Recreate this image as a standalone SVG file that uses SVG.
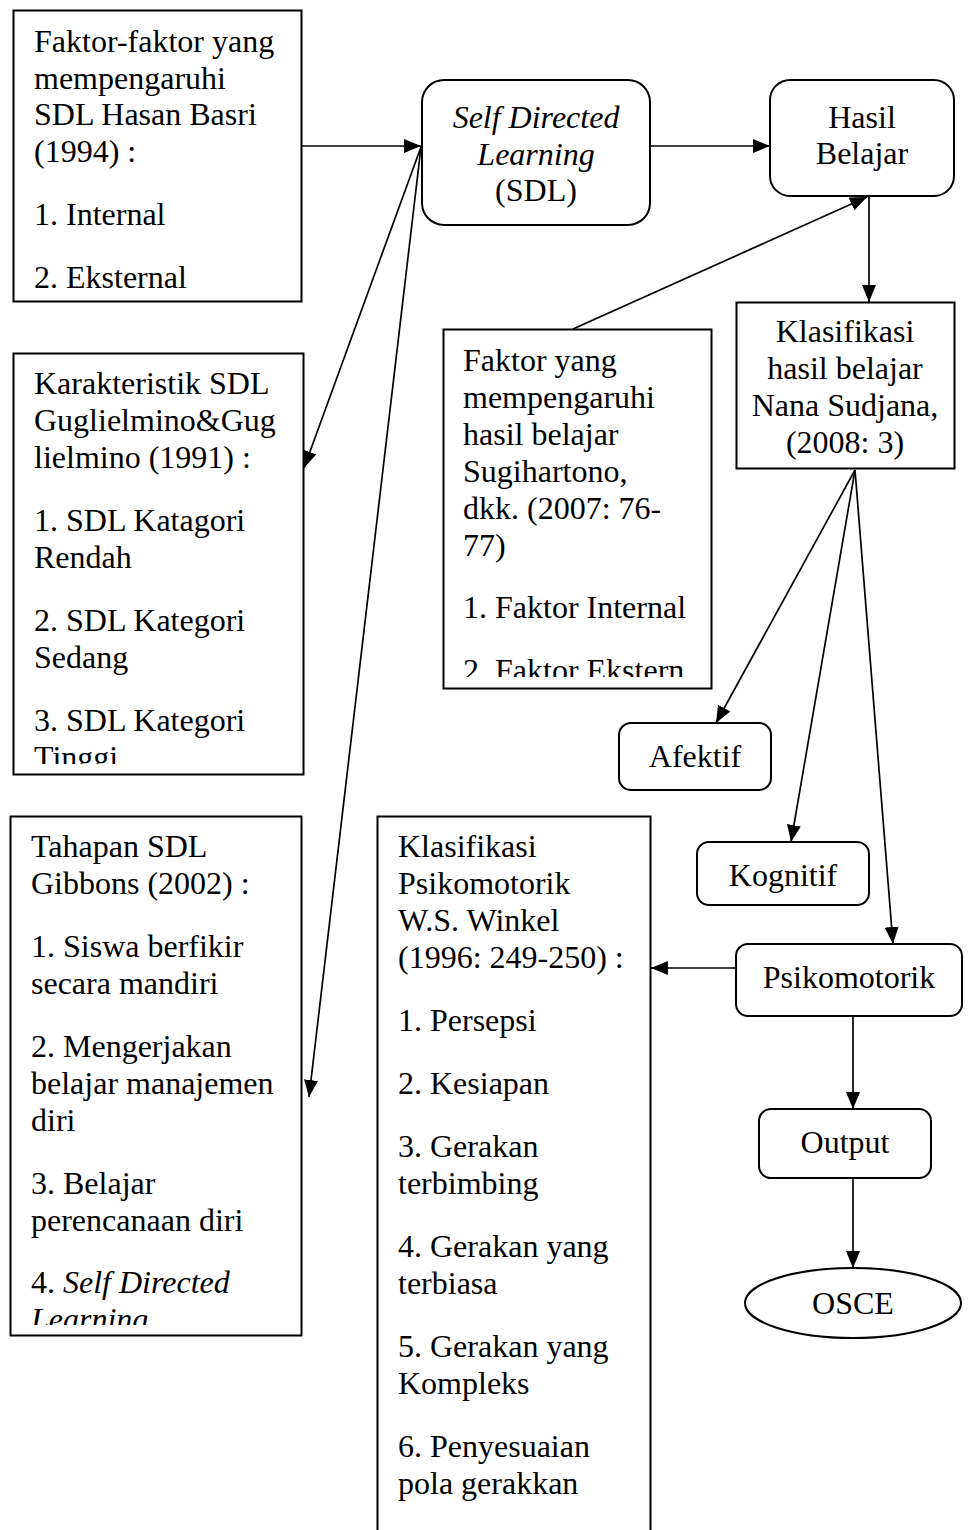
<svg xmlns="http://www.w3.org/2000/svg" width="972" height="1530" viewBox="0 0 972 1530">
<style>
  .box { fill: #fff; stroke: #000; stroke-width: 2; }
  .t { font-family: "Liberation Serif", "Times New Roman", serif; font-size: 32px; fill: #000; }
  .c { text-anchor: middle; }
  .i { font-style: italic; }
  .ln { stroke: #000; stroke-width: 1.7; fill: none; marker-end: url(#ah); }
</style>
<defs>
  <marker id="ah" viewBox="0 0 17 14" refX="17" refY="7" markerWidth="17" markerHeight="14" markerUnits="userSpaceOnUse" orient="auto">
    <path d="M0,0 L17,7 L0,14 z" fill="#000"/>
  </marker>
  <clipPath id="c2"><rect x="13" y="353" width="291" height="411"/></clipPath>
  <clipPath id="c3"><rect x="10" y="816" width="292" height="509"/></clipPath>
  <clipPath id="c5"><rect x="443" y="329" width="269" height="348"/></clipPath>
</defs>

<g id="n-faktor-sdl">
  <rect class="box" x="13.5" y="10.5" width="288" height="291"/>
  <text class="t" x="34" y="52">Faktor-faktor yang</text>
  <text class="t" x="34" y="89">mempengaruhi</text>
  <text class="t" x="34" y="125">SDL Hasan Basri</text>
  <text class="t" x="34" y="162">(1994) :</text>
  <text class="t" x="34" y="225">1. Internal</text>
  <text class="t" x="34" y="288">2. Eksternal</text>
</g>

<g id="n-karakteristik">
  <rect class="box" x="13.5" y="353.5" width="290" height="421"/>
  <g clip-path="url(#c2)">
    <text class="t" x="34" y="394">Karakteristik SDL</text>
    <text class="t" x="34" y="431">Guglielmino&amp;Gug</text>
    <text class="t" x="34" y="468">lielmino (1991) :</text>
    <text class="t" x="34" y="531">1. SDL Katagori</text>
    <text class="t" x="34" y="568">Rendah</text>
    <text class="t" x="34" y="631">2. SDL Kategori</text>
    <text class="t" x="34" y="668">Sedang</text>
    <text class="t" x="34" y="731">3. SDL Kategori</text>
    <text class="t" x="34" y="768">Tinggi</text>
  </g>
</g>

<g id="n-tahapan">
  <rect class="box" x="10.5" y="816.5" width="291" height="519"/>
  <g clip-path="url(#c3)">
    <text class="t" x="31" y="857">Tahapan SDL</text>
    <text class="t" x="31" y="894">Gibbons (2002) :</text>
    <text class="t" x="31" y="957">1. Siswa berfikir</text>
    <text class="t" x="31" y="994">secara mandiri</text>
    <text class="t" x="31" y="1057">2. Mengerjakan</text>
    <text class="t" x="31" y="1094">belajar manajemen</text>
    <text class="t" x="31" y="1131">diri</text>
    <text class="t" x="31" y="1194">3. Belajar</text>
    <text class="t" x="31" y="1231">perencanaan diri</text>
    <text class="t" x="31" y="1293">4. <tspan class="i">Self Directed</tspan></text>
    <text class="t i" x="31" y="1330">Learning</text>
  </g>
</g>

<g id="n-sdl">
  <rect class="box" x="422" y="80" width="228" height="145" rx="22" ry="22"/>
  <text class="t c i" x="536" y="128">Self Directed</text>
  <text class="t c i" x="536" y="165">Learning</text>
  <text class="t c" x="536" y="201">(SDL)</text>
</g>

<g id="n-hasil">
  <rect class="box" x="770" y="80" width="184" height="116" rx="20" ry="20"/>
  <text class="t c" x="862" y="128">Hasil</text>
  <text class="t c" x="862" y="164">Belajar</text>
</g>

<g id="n-faktor-hasil">
  <rect class="box" x="443.5" y="329.5" width="268" height="359"/>
  <g clip-path="url(#c5)">
    <text class="t" x="463" y="371">Faktor yang</text>
    <text class="t" x="463" y="408">mempengaruhi</text>
    <text class="t" x="463" y="445">hasil belajar</text>
    <text class="t" x="463" y="482">Sugihartono,</text>
    <text class="t" x="463" y="519">dkk. (2007: 76-</text>
    <text class="t" x="463" y="556">77)</text>
    <text class="t" x="463" y="618">1. Faktor Internal</text>
    <text class="t" x="463" y="681">2. Faktor Ekstern</text>
  </g>
</g>

<g id="n-klasifikasi">
  <rect class="box" x="736.5" y="302.5" width="218" height="166"/>
  <text class="t c" x="845" y="342">Klasifikasi</text>
  <text class="t c" x="845" y="379">hasil belajar</text>
  <text class="t c" x="845" y="416">Nana Sudjana,</text>
  <text class="t c" x="845" y="453">(2008: 3)</text>
</g>

<g id="n-afektif">
  <rect class="box" x="619" y="723" width="152" height="67" rx="12" ry="12"/>
  <text class="t c" x="695" y="767">Afektif</text>
</g>

<g id="n-kognitif">
  <rect class="box" x="697" y="842" width="172" height="63" rx="12" ry="12"/>
  <text class="t c" x="783" y="886">Kognitif</text>
</g>

<g id="n-psikomotorik">
  <rect class="box" x="736" y="944" width="226" height="72" rx="12" ry="12"/>
  <text class="t c" x="849" y="988">Psikomotorik</text>
</g>

<g id="n-klasifikasi-psiko">
  <path class="box" d="M377.5,1531 V816.5 H650.5 V1531"/>
  <text class="t" x="398" y="857">Klasifikasi</text>
  <text class="t" x="398" y="894">Psikomotorik</text>
  <text class="t" x="398" y="931">W.S. Winkel</text>
  <text class="t" x="398" y="968">(1996: 249-250) :</text>
  <text class="t" x="398" y="1031">1. Persepsi</text>
  <text class="t" x="398" y="1094">2. Kesiapan</text>
  <text class="t" x="398" y="1157">3. Gerakan</text>
  <text class="t" x="398" y="1194">terbimbing</text>
  <text class="t" x="398" y="1257">4. Gerakan yang</text>
  <text class="t" x="398" y="1294">terbiasa</text>
  <text class="t" x="398" y="1357">5. Gerakan yang</text>
  <text class="t" x="398" y="1394">Kompleks</text>
  <text class="t" x="398" y="1457">6. Penyesuaian</text>
  <text class="t" x="398" y="1494">pola gerakkan</text>
</g>

<g id="n-output">
  <rect class="box" x="759" y="1109" width="172" height="69" rx="12" ry="12"/>
  <text class="t c" x="845" y="1153">Output</text>
</g>

<g id="n-osce">
  <ellipse class="box" cx="853" cy="1303" rx="108" ry="35"/>
  <text class="t c" x="853" y="1314">OSCE</text>
</g>

<g id="connectors">
  <line class="ln" x1="302" y1="146" x2="421" y2="146"/>
  <line class="ln" x1="421" y1="147" x2="304" y2="468"/>
  <line class="ln" x1="421" y1="147" x2="309" y2="1097"/>
  <line class="ln" x1="650" y1="146" x2="770" y2="146"/>
  <line class="ln" x1="573" y1="329" x2="867" y2="197"/>
  <line class="ln" x1="869" y1="196" x2="869" y2="302"/>
  <line class="ln" x1="855" y1="470" x2="716" y2="723"/>
  <line class="ln" x1="855" y1="470" x2="791" y2="842"/>
  <line class="ln" x1="855" y1="470" x2="893" y2="944"/>
  <line class="ln" x1="736" y1="968" x2="651" y2="968"/>
  <line class="ln" x1="853" y1="1016" x2="853" y2="1109"/>
  <line class="ln" x1="853" y1="1178" x2="853" y2="1268"/>
</g>
</svg>
